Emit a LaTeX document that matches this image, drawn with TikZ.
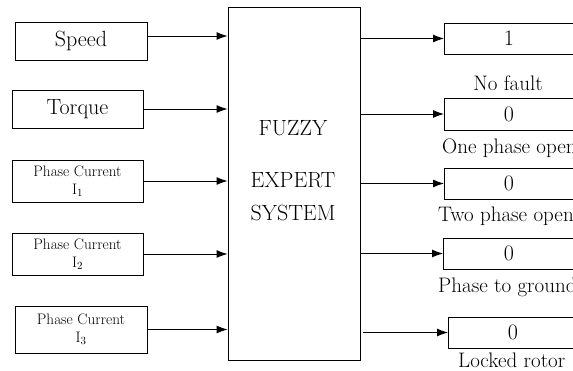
\documentclass[tikz,border=0pt]{standalone}
\usepackage{fontspec}
\usetikzlibrary{arrows.meta}

\tikzset{
  inbox/.style={draw, line width=0.9pt, inner sep=0pt, align=center},
  outbox/.style={draw, line width=0.9pt, inner sep=0pt, anchor=west},
  lbl/.style={inner sep=0pt, anchor=west, font=\fontsize{21}{23}\selectfont},
  flow/.style={->, line width=0.9pt}
}

\begin{document}
\begin{tikzpicture}[x=1pt, y=-1pt, >={Latex[length=11pt,width=8pt]},
    font=\fontsize{22}{24}\selectfont]
  \useasboundingbox (0,0) rectangle (573,371);
  \clip (0,0) rectangle (573,371);

  % inputs
  \node[inbox, minimum width=132pt, minimum height=38pt] (speed) at (81,41) {Speed};
  \node[inbox, minimum width=131pt, minimum height=38pt] (torque) at (77.5,109) {Torque};
  \node[inbox, minimum width=131pt, minimum height=42pt,
        font=\fontsize{15.2}{18}\selectfont] (ia) at (77.5,181) {Phase Current\\I$_1$};
  \node[inbox, minimum width=131pt, minimum height=42pt,
        font=\fontsize{15.2}{18}\selectfont] (ib) at (77.5,254) {Phase Current\\I$_2$};
  \node[inbox, minimum width=132pt, minimum height=47pt,
        font=\fontsize{15.2}{18}\selectfont] (ic) at (81,329.5) {Phase Current\\I$_3$};

  % fuzzy block
  \node[draw, line width=0.9pt, minimum width=132pt, minimum height=353pt] (fes) at (294,183.5) {};
  \node (fz) at (293,128) {FUZZY};
  \node (ex) at (293,180) {EXPERT};
  \node (sy) at (293,213) {SYSTEM};

  % outputs
  \node[outbox, minimum width=132pt, minimum height=31pt] (o1) at (444,38.5) {};
  \node[outbox, minimum width=132pt, minimum height=32pt] (o2) at (444,114) {};
  \node[outbox, minimum width=132pt, minimum height=31pt] (o3) at (444,183.5) {};
  \node[outbox, minimum width=134pt, minimum height=31pt] (o4) at (443,253.5) {};
  \node[outbox, minimum width=132pt, minimum height=31pt] (o5) at (448,332.5) {};
  \node (v1) at (509,38.5) {1};
  \node (v2) at (509,114) {0};
  \node (v3) at (509,183.5) {0};
  \node (v4) at (509,253.5) {0};
  \node (v5) at (513,332.5) {0};

  \node[lbl, anchor=center] (l1) at (508,83) {No fault};
  \node[lbl] (l2) at (442,148) {One phase open};
  \node[lbl] (l3) at (438,216) {Two phase open};
  \node[lbl] (l4) at (438,287) {Phase to ground};
  \node[lbl] (l5) at (458,360) {Locked rotor};

  % arrows in
  \coordinate (sp) at ([yshift=5pt]speed.east);
  \draw[flow] (sp) -- (fes.west |- sp);
  \foreach \n in {torque,ia,ib,ic}
    \draw[flow] (\n.east) -- (fes.west |- \n.east);

  % arrows out
  \coordinate (lr) at ([xshift=3pt]fes.east |- o5.west);
  \foreach \n in {o1,o2,o3,o4}
    \draw[flow] (fes.east |- \n.west) -- (\n.west);
  \draw[flow] (lr) -- (o5.west);
\end{tikzpicture}
\end{document}
